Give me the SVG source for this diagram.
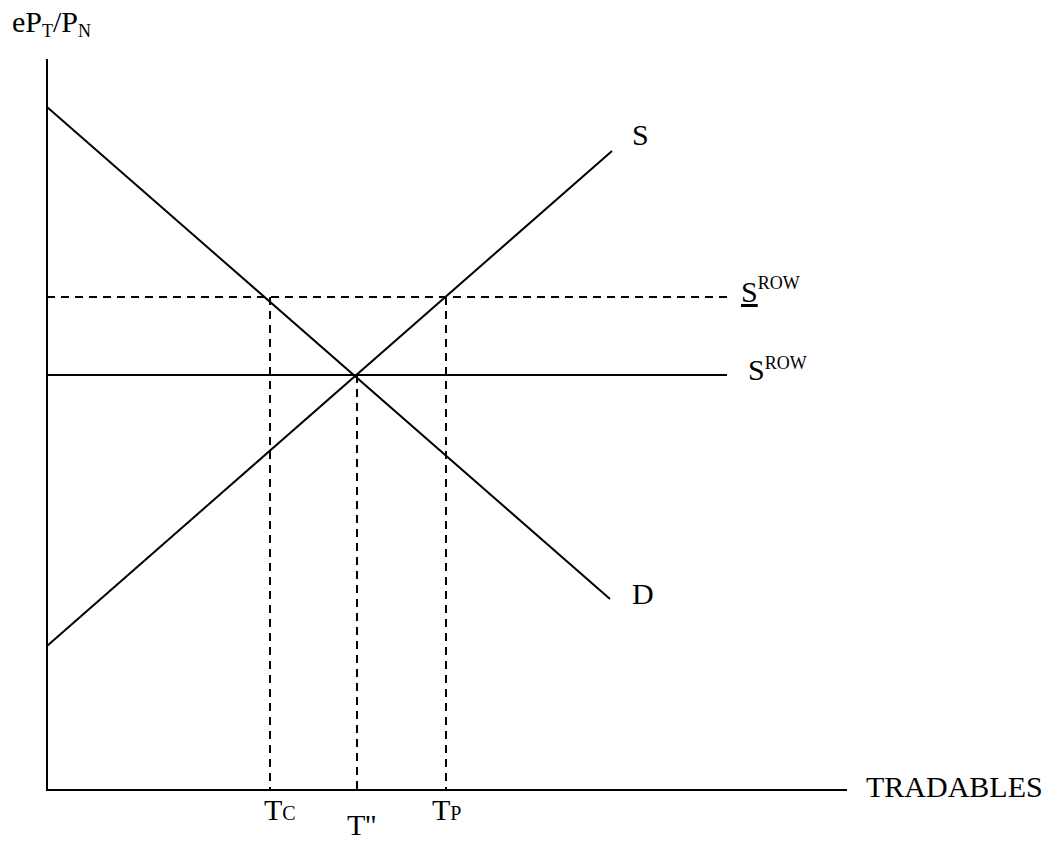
<svg xmlns="http://www.w3.org/2000/svg" width="1054" height="841" viewBox="0 0 1054 841">
<style>
.ln{stroke:#000;stroke-width:2;fill:none}
.dash{stroke:#000;stroke-width:2;fill:none;stroke-dasharray:8,6}
.t{font-family:"Liberation Serif","Times New Roman",serif;font-size:30px;fill:#000}
.sm{font-size:18px}
.sc{font-size:20px}
</style>
<rect width="1054" height="841" fill="#fff"/>
<g id="axes">
<line class="ln" x1="47" y1="59" x2="47" y2="791"/>
<line class="ln" x1="46" y1="790" x2="847" y2="790"/>
</g>
<g id="connectors">
<line class="ln" x1="47" y1="107" x2="610" y2="599"/>
<line class="ln" x1="47" y1="646" x2="612" y2="151"/>
<line class="dash" x1="47" y1="297" x2="731" y2="297"/>
<line class="ln" x1="47" y1="375" x2="727" y2="375"/>
<line class="dash" x1="270" y1="297" x2="270" y2="790"/>
<line class="dash" x1="357" y1="375" x2="357" y2="790"/>
<line class="dash" x1="446" y1="297" x2="446" y2="790"/>
</g>
<g id="label-yaxis"><text class="t" x="12" y="32">eP<tspan class="sm" dy="5">T</tspan><tspan dy="-5">/P</tspan><tspan class="sm" dy="5">N</tspan></text></g>
<g id="label-S"><text class="t" x="632" y="145">S</text></g>
<g id="label-D"><text class="t" x="632" y="604">D</text></g>
<g id="label-Srow-bar"><text class="t" x="741" y="302"><tspan text-decoration="underline">S</tspan><tspan class="sm" dy="-13">ROW</tspan></text></g>
<g id="label-Srow"><text class="t" x="748" y="380"><tspan>S</tspan><tspan class="sm" dy="-11">ROW</tspan></text></g>
<g id="label-tradables"><text class="t" x="866" y="797">TRADABLES</text></g>
<g id="label-Tc"><text class="t" x="264" y="820">T<tspan class="sc">C</tspan></text></g>
<g id="label-T2"><text class="t" x="347" y="835">T''</text></g>
<g id="label-Tp"><text class="t" x="432" y="820">T<tspan class="sc">P</tspan></text></g>
</svg>
